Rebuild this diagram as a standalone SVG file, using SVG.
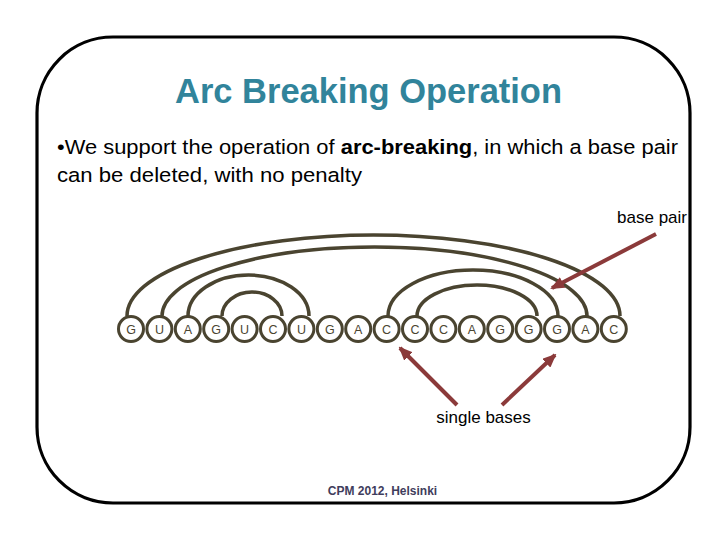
<svg xmlns="http://www.w3.org/2000/svg" width="720" height="540" viewBox="0 0 720 540">
  <style>
    .arc { fill: none; stroke: #4a4430; stroke-width: 3.5; }
    .base circle { fill: #ffffff; stroke: #4a4430; stroke-width: 3; }
    .base text { font-family: "Liberation Sans", Arial, sans-serif; font-size: 12.5px; fill: #4a4430; text-anchor: middle; }
    .arrow { stroke: #8b3a3a; stroke-width: 4; fill: none; marker-end: url(#head); }
    .body { font-family: "Liberation Sans", Arial, sans-serif; fill: #000000; }
  </style>
  <defs>
    <marker id="head" markerUnits="userSpaceOnUse" markerWidth="14" markerHeight="12" refX="12" refY="6" orient="auto">
      <path d="M0,0 L14,6 L0,12 Z" fill="#8b3a3a"/>
    </marker>
  </defs>
  <rect x="0" y="0" width="720" height="540" fill="#ffffff"/>
  <g id="frame">
    <rect x="37" y="37" width="653" height="466" rx="76" ry="76" fill="#ffffff" stroke="#000000" stroke-width="3.2"/>
  </g>
  <g id="title">
    <text x="368.5" y="103" font-family="'Liberation Sans', Arial, sans-serif" font-weight="bold" font-size="34.5" fill="#31849b" text-anchor="middle" textLength="387" lengthAdjust="spacingAndGlyphs">Arc Breaking Operation</text>
  </g>
  <g id="bullet">
    <text class="body" x="57" y="154" font-size="20.5" textLength="621" lengthAdjust="spacingAndGlyphs">•We support the operation of <tspan font-weight="bold">arc-breaking</tspan>, in which a base pair</text>
    <text class="body" x="57" y="182" font-size="20.5" textLength="305" lengthAdjust="spacingAndGlyphs">can be deleted, with no penalty</text>
  </g>
  <g id="connectors">
    <path class="arc" d="M127,316 A246.5,81 0 0 1 620,316"/>
    <path class="arc" d="M162,316 A212.5,69 0 0 1 587,316"/>
    <path class="arc" d="M188,316 A60.5,41 0 0 1 309,316"/>
    <path class="arc" d="M222,316 A30,24 0 0 1 282,316"/>
    <path class="arc" d="M388,316 A85,46 0 0 1 558,316"/>
    <path class="arc" d="M417,316 A60,31 0 0 1 537,316"/>
    <line class="arrow" x1="656" y1="234" x2="552" y2="288"/>
    <line class="arrow" x1="457" y1="405" x2="400" y2="348"/>
    <line class="arrow" x1="502" y1="405" x2="555" y2="355"/>
  </g>
  <g id="b0" class="base"><circle cx="131" cy="329" r="12.5"/><text x="131" y="333.5">G</text></g>
  <g id="b1" class="base"><circle cx="159.4" cy="329" r="12.5"/><text x="159.4" y="333.5">U</text></g>
  <g id="b2" class="base"><circle cx="187.8" cy="329" r="12.5"/><text x="187.8" y="333.5">A</text></g>
  <g id="b3" class="base"><circle cx="216.2" cy="329" r="12.5"/><text x="216.2" y="333.5">G</text></g>
  <g id="b4" class="base"><circle cx="244.6" cy="329" r="12.5"/><text x="244.6" y="333.5">U</text></g>
  <g id="b5" class="base"><circle cx="273" cy="329" r="12.5"/><text x="273" y="333.5">C</text></g>
  <g id="b6" class="base"><circle cx="301.4" cy="329" r="12.5"/><text x="301.4" y="333.5">U</text></g>
  <g id="b7" class="base"><circle cx="329.8" cy="329" r="12.5"/><text x="329.8" y="333.5">G</text></g>
  <g id="b8" class="base"><circle cx="358.2" cy="329" r="12.5"/><text x="358.2" y="333.5">A</text></g>
  <g id="b9" class="base"><circle cx="386.6" cy="329" r="12.5"/><text x="386.6" y="333.5">C</text></g>
  <g id="b10" class="base"><circle cx="415" cy="329" r="12.5"/><text x="415" y="333.5">C</text></g>
  <g id="b11" class="base"><circle cx="443.4" cy="329" r="12.5"/><text x="443.4" y="333.5">C</text></g>
  <g id="b12" class="base"><circle cx="471.8" cy="329" r="12.5"/><text x="471.8" y="333.5">A</text></g>
  <g id="b13" class="base"><circle cx="500.2" cy="329" r="12.5"/><text x="500.2" y="333.5">G</text></g>
  <g id="b14" class="base"><circle cx="528.6" cy="329" r="12.5"/><text x="528.6" y="333.5">G</text></g>
  <g id="b15" class="base"><circle cx="557" cy="329" r="12.5"/><text x="557" y="333.5">G</text></g>
  <g id="b16" class="base"><circle cx="585.4" cy="329" r="12.5"/><text x="585.4" y="333.5">A</text></g>
  <g id="b17" class="base"><circle cx="613.8" cy="329" r="12.5"/><text x="613.8" y="333.5">C</text></g>
  <g id="label-base-pair">
    <text class="body" x="687" y="223" font-size="17" text-anchor="end">base pair</text>
  </g>
  <g id="label-single-bases">
    <text class="body" x="483.5" y="423" font-size="17" text-anchor="middle">single bases</text>
  </g>
  <g id="footer">
    <text x="382.5" y="495" font-family="'Liberation Sans', Arial, sans-serif" font-weight="bold" font-size="12" fill="#3f3d5c" text-anchor="middle">CPM 2012, Helsinki</text>
  </g>
</svg>
